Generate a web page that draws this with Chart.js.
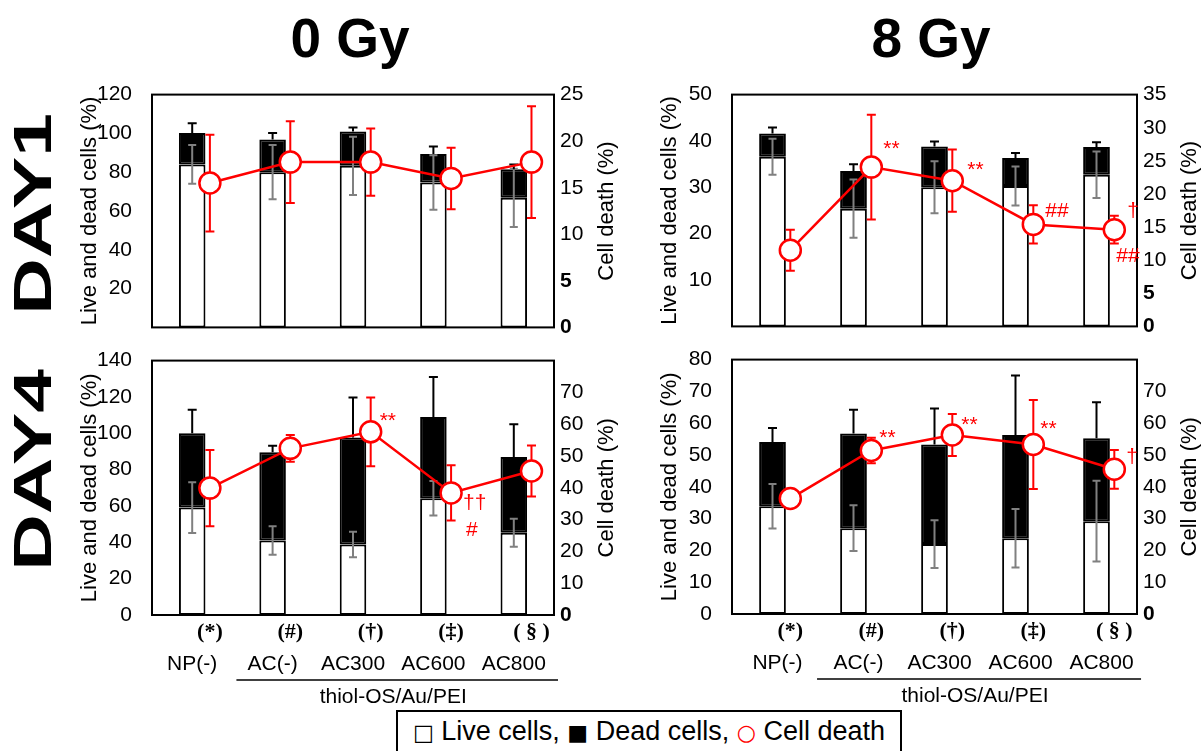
<!DOCTYPE html>
<html>
<head>
<meta charset="utf-8">
<script src="https://cdn.jsdelivr.net/npm/chart.js@4.4.1/dist/chart.umd.min.js"></script>
<style>
  html, body { margin: 0; padding: 0; background: #fff; }
  body { width: 1203px; height: 751px; position: relative; overflow: hidden;
         font-family: 'Liberation Sans', Arial, sans-serif; color: #000; }
  canvas { position: absolute; }
  .title { position: absolute; font-weight: bold; font-size: 55px; line-height: 55px;
           transform: translateX(-50%); white-space: nowrap; }
  .day { position: absolute; font-weight: bold; font-size: 54px; line-height: 54px; white-space: nowrap;
         transform: translate(-50%, -50%) rotate(-90deg) scaleX(1.45); }
  .legend { position: absolute; left: 396px; top: 710px; width: 506px; height: 60px;
            border: 2px solid #000; border-bottom: none; box-sizing: border-box;
            font-size: 27px; line-height: 27px; padding-top: 6px; text-align: center; white-space: nowrap; }
  .legend .sym { font-family: 'DejaVu Sans', sans-serif; font-size: 22px; }
  .legend .red { color: #ff0000; }
</style>
</head>
<body>
<div class="title" style="left:350px; top:11px">0 Gy</div>
<div class="title" style="left:931px; top:11px">8 Gy</div>
<div class="day" style="left:32px; top:214px">DAY1</div>
<div class="day" style="left:32px; top:470px">DAY4</div>
<div class="legend"><span class="sym">□</span> Live cells, <span class="sym">■</span> Dead cells, <span class="sym red">○</span> Cell death</div>

<script>
// categories and group labels
const categories = ['NP(-)', 'AC(-)', 'AC300', 'AC600', 'AC800'];
const groupMarks = ['(*)', '(#)', '(†)', '(‡)', '( § )'];
const groupName = 'thiol-OS/Au/PEI';

// 0 Gy, DAY1
const live0d1 = [84, 80, 83.3, 74.7, 66.8];
const liveErr0d1 = [10, 14, 15, 14, 15];
const dead0d1 = [16.2, 16.8, 17.7, 14.7, 14.7];
const deadErr0d1 = [5, 3.4, 2, 3.8, 2.5];
const death0d1 = [15.5, 17.75, 17.75, 16.0, 17.75];
const deathErr0d1 = [5.2, 4.4, 3.6, 3.3, 6];

// 0 Gy, DAY4
const live0d4 = [59.1, 41, 38.8, 64.3, 45.3];
const liveErr0d4 = [14, 7.8, 7, 9.5, 7.7];
const dead0d4 = [40.9, 48.5, 58.9, 44.7, 41.7];
const deadErr0d4 = [13, 3.6, 22, 22, 18];
const death0d4 = [39.9, 52.4, 57.6, 38.4, 45.3];
const deathErr0d4 = [12, 4.2, 10.8, 8.7, 8];

// 8 Gy, DAY1
const live8d1 = [36.6, 25.4, 30, 30.3, 32.7];
const liveErr8d1 = [3.9, 6.3, 5.6, 4.2, 5];
const dead8d1 = [5, 8.1, 8.8, 6, 6];
const deadErr8d1 = [1.3, 1.5, 1.1, 1.1, 1];
const death8d1 = [11.5, 24.05, 22, 15.4, 14.6];
const deathErr8d1 = [3.1, 7.9, 4.7, 2.9, 2.1];

// 8 Gy, DAY4
const live8d4 = [33.9, 27, 22, 23.8, 29.2];
const liveErr8d4 = [7, 7.2, 7.5, 9.2, 12.7];
const dead8d4 = [20.2, 29.8, 31.3, 32.5, 26.1];
const deadErr8d4 = [4.4, 7.4, 11.3, 18.7, 11.3];
const death8d4 = [36.3, 51.4, 56.3, 53.3, 45.5];
const deathErr8d4 = [1, 4, 6.6, 14, 6.1];

// axis ranges: [max, step] for left (cells) and right (cell death) axes
const cellsAxis0d1 = [120, 20], deathAxis0d1 = [25, 5];
const cellsAxis0d4 = [140, 20], deathAxis0d4 = [80, 10];
const cellsAxis8d1 = [50, 10], deathAxis8d1 = [35, 5];
const cellsAxis8d4 = [80, 10], deathAxis8d4 = [80, 10];

Chart.defaults.font.family = "'Liberation Sans', Arial, sans-serif";
Chart.defaults.color = '#000';

const RED = '#ff0000';
const lineShift = 0.22; // cell death markers sit right of the bar centre

function drawErr(ctx, x, yTop, yBot, color, cap, topOnly) {
  ctx.strokeStyle = color;
  ctx.lineWidth = 2;
  ctx.beginPath();
  ctx.moveTo(x, yTop); ctx.lineTo(x, yBot);
  ctx.moveTo(x - cap / 2, yTop); ctx.lineTo(x + cap / 2, yTop);
  if (!topOnly) { ctx.moveTo(x - cap / 2, yBot); ctx.lineTo(x + cap / 2, yBot); }
  ctx.stroke();
}

const extras = {
  id: 'extras',
  beforeDatasetDraw(chart, args) {
    if (args.index !== 2) return;
    const ctx = chart.ctx, y = chart.scales.y, y2 = chart.scales.y2;
    const ds = chart.data.datasets;
    const liveMeta = chart.getDatasetMeta(0), deadMeta = chart.getDatasetMeta(1), lineMeta = chart.getDatasetMeta(2);
    ctx.save();
    // live cells: grey bars both ways
    ds[0].data.forEach((v, i) => {
      const e = ds[0].errors[i];
      drawErr(ctx, liveMeta.data[i].x, y.getPixelForValue(v + e), y.getPixelForValue(v - e), '#808080', 8);
    });
    // dead cells: black bar above the stack total
    ds[1].data.forEach((v, i) => {
      const total = ds[0].data[i] + v;
      drawErr(ctx, deadMeta.data[i].x, y.getPixelForValue(total + ds[1].errors[i]), y.getPixelForValue(total), '#000', 9, true);
    });
    // cell death: red, drawn before the markers so the white fill covers them
    ds[2].data.forEach((p, i) => {
      const e = ds[2].errors[i];
      drawErr(ctx, lineMeta.data[i].x, y2.getPixelForValue(p.y + e), y2.getPixelForValue(p.y - e), RED, 9);
    });
    ctx.restore();
  },
  afterDraw(chart, args, opts) {
    const ctx = chart.ctx, a = chart.chartArea;
    ctx.save();
    // plot frame
    ctx.strokeStyle = '#000';
    ctx.lineWidth = 2;
    ctx.strokeRect(a.left, a.top, a.right - a.left, a.bottom - a.top);

    // right axis title, reading bottom to top
    ctx.fillStyle = '#000';
    ctx.font = "22px 'Liberation Sans', Arial, sans-serif";
    ctx.textAlign = 'center';
    ctx.textBaseline = 'middle';
    ctx.translate(a.right + 52.5, (a.top + a.bottom) / 2);
    ctx.rotate(-Math.PI / 2);
    ctx.fillText('Cell death (%)', 0, 0);
    ctx.restore();

    // significance marks next to the cell death markers
    const lineMeta = chart.getDatasetMeta(2);
    ctx.save();
    ctx.fillStyle = RED;
    ctx.font = "21px 'Liberation Sans', Arial, sans-serif";
    ctx.textAlign = 'left';
    ctx.textBaseline = 'middle';
    (opts.notes || []).forEach(n => {
      const pt = lineMeta.data[n.i];
      ctx.fillText(n.text, pt.x + n.dx, pt.y + n.dy);
    });
    ctx.restore();

    if (!opts.categories) return;
    // category labels under the lower panels
    const x = chart.scales.x;
    const step = x.getPixelForValue(1) - x.getPixelForValue(0);
    ctx.save();
    ctx.fillStyle = '#000';
    ctx.textAlign = 'center';
    ctx.textBaseline = 'middle';
    categories.forEach((c, i) => {
      const cx = x.getPixelForValue(i);
      ctx.font = "bold 22px 'Liberation Serif', serif";
      ctx.fillText(groupMarks[i], cx + step * lineShift, a.bottom + 17);
      ctx.font = "21px 'Liberation Sans', Arial, sans-serif";
      ctx.fillText(c, cx + opts.labelShift, a.bottom + 49);
    });
    const x0 = x.getPixelForValue(1) - step * 0.45, x1 = x.getPixelForValue(4) + step * 0.55;
    ctx.strokeStyle = '#000';
    ctx.lineWidth = 1.5;
    ctx.beginPath();
    ctx.moveTo(x0, a.bottom + 65); ctx.lineTo(x1, a.bottom + 65);
    ctx.stroke();
    ctx.fillText(groupName, (x.getPixelForValue(2) + x.getPixelForValue(3)) / 2, a.bottom + 82);
    ctx.restore();
  }
};

const panels = [
  { box: [152, 78, 554, 344], live: live0d1, liveErr: liveErr0d1, dead: dead0d1, deadErr: deadErr0d1,
    death: death0d1, deathErr: deathErr0d1, cells: cellsAxis0d1, deathAx: deathAxis0d1,
    hideL: [0], hideR: [], boldR: [0, 5], lower: false, labelShift: 0, notes: [] },
  { box: [152, 344, 554, 615], live: live0d4, liveErr: liveErr0d4, dead: dead0d4, deadErr: deadErr0d4,
    death: death0d4, deathErr: deathErr0d4, cells: cellsAxis0d4, deathAx: deathAxis0d4,
    hideL: [], hideR: [80], boldR: [0], lower: true, labelShift: 0,
    notes: [{ i: 2, text: '**', dx: 9, dy: -11 }, { i: 3, text: '††', dx: 12, dy: 10 }, { i: 3, text: '#', dx: 15, dy: 37 }] },
  { box: [732, 78, 1137, 343], live: live8d1, liveErr: liveErr8d1, dead: dead8d1, deadErr: deadErr8d1,
    death: death8d1, deathErr: deathErr8d1, cells: cellsAxis8d1, deathAx: deathAxis8d1,
    hideL: [0], hideR: [], boldR: [0, 5], lower: false, labelShift: 5,
    notes: [{ i: 1, text: '**', dx: 12, dy: -18 }, { i: 2, text: '**', dx: 15, dy: -10 },
            { i: 3, text: '##', dx: 12, dy: -13 }, { i: 4, text: '†', dx: 13, dy: -19 }, { i: 4, text: '##', dx: 2, dy: 26 }] },
  { box: [732, 343, 1137, 614], live: live8d4, liveErr: liveErr8d4, dead: dead8d4, deadErr: deadErr8d4,
    death: death8d4, deathErr: deathErr8d4, cells: cellsAxis8d4, deathAx: deathAxis8d4,
    hideL: [], hideR: [80], boldR: [0], lower: true, labelShift: 5,
    notes: [{ i: 1, text: '**', dx: 8, dy: -12 }, { i: 2, text: '**', dx: 9, dy: -10 },
            { i: 3, text: '**', dx: 7, dy: -15 }, { i: 4, text: '†', dx: 12, dy: -12 }] }
];

const AXL = 90, AXR = 80, PADT = 16;

panels.forEach(p => {
  const [L, T, R, B] = p.box;
  const padB = p.lower ? 95 : 16;
  const canvas = document.createElement('canvas');
  canvas.width = R - L + AXL + AXR;
  canvas.height = B - T + PADT + padB;
  canvas.style.left = (L - AXL) + 'px';
  canvas.style.top = (T - PADT) + 'px';
  document.body.appendChild(canvas);

  new Chart(canvas, {
    type: 'bar',
    data: {
      labels: categories,
      datasets: [
        { label: 'Live cells', data: p.live, errors: p.liveErr, stack: 's', order: 1, grouped: false,
          backgroundColor: '#fff', borderColor: '#000', borderWidth: 2, borderSkipped: false,
          barPercentage: 0.33, categoryPercentage: 1 },
        { label: 'Dead cells', data: p.dead, errors: p.deadErr, stack: 's', order: 1, grouped: false,
          backgroundColor: '#000', borderColor: '#000', borderWidth: 2, borderSkipped: false,
          barPercentage: 0.33, categoryPercentage: 1 },
        { type: 'line', label: 'Cell death', order: 0, xAxisID: 'x2', yAxisID: 'y2',
          data: p.death.map((v, i) => ({ x: i + lineShift, y: v })), errors: p.deathErr,
          borderColor: RED, borderWidth: 2.5, tension: 0,
          pointRadius: 10.5, pointBackgroundColor: '#fff', pointBorderColor: RED, pointBorderWidth: 2.5 }
      ]
    },
    options: {
      responsive: false,
      animation: false,
      events: [],
      layout: { padding: { left: 0, right: 0, top: PADT, bottom: padB } },
      plugins: {
        legend: { display: false },
        tooltip: { enabled: false },
        extras: { notes: p.notes, categories: p.lower, labelShift: p.labelShift }
      },
      scales: {
        x: { display: false, stacked: true },
        x2: { type: 'linear', display: false, offset: false, min: -0.5, max: 4.5 },
        y: {
          position: 'left', stacked: true, min: 0, max: p.cells[0],
          grid: { display: false, drawTicks: false }, border: { display: false },
          ticks: { stepSize: p.cells[1], padding: 20, autoSkip: false, font: { size: 21 },
                   callback: v => p.hideL.includes(v) ? '' : v },
          title: { display: true, text: 'Live and dead cells (%)', font: { size: 22 }, padding: { top: 15, bottom: 0 } },
          afterFit: s => { s.width = AXL; }
        },
        y2: {
          position: 'right', min: 0, max: p.deathAx[0],
          grid: { display: false, drawTicks: false }, border: { display: false },
          ticks: { stepSize: p.deathAx[1], padding: 6, autoSkip: false,
                   font: c => ({ size: 21, weight: p.boldR.includes(c.tick && c.tick.value) ? 'bold' : 'normal' }),
                   callback: v => p.hideR.includes(v) ? '' : v },
          afterFit: s => { s.width = AXR; }
        }
      }
    },
    plugins: [extras]
  });
});
</script>
</body>
</html>
